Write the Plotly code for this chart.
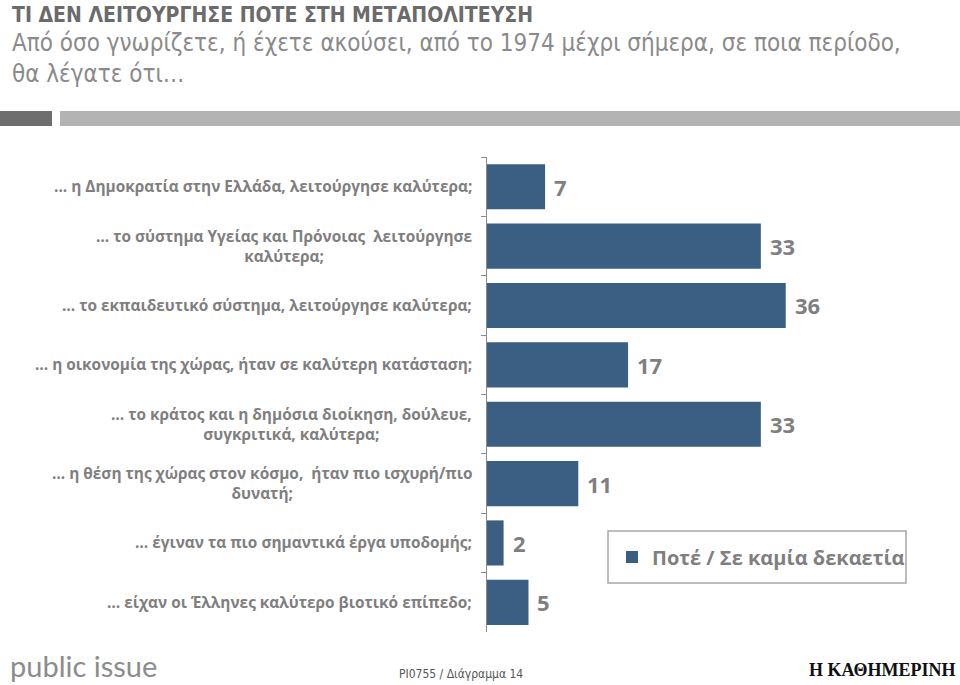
import plotly.graph_objects as go

categories = [
    "... η Δημοκρατία στην Ελλάδα, λειτούργησε καλύτερα;",
    "… το σύστημα Υγείας και Πρόνοιας  λειτούργησε<br>καλύτερα;",
    "… το εκπαιδευτικό σύστημα, λειτούργησε καλύτερα;",
    "… η οικονομία της χώρας, ήταν σε καλύτερη κατάσταση;",
    "… το κράτος και η δημόσια διοίκηση, δούλευε,<br>συγκριτικά, καλύτερα;",
    "… η θέση της χώρας στον κόσμο,  ήταν πιο ισχυρή/πιο<br>δυνατή;",
    "… έγιναν τα πιο σημαντικά έργα υποδομής;",
    "… είχαν οι Έλληνες καλύτερο βιοτικό επίπεδο;",
]
values = [7, 33, 36, 17, 33, 11, 2, 5]
series_name = "Ποτέ / Σε καμία δεκαετία"

title = "ΤΙ ΔΕΝ ΛΕΙΤΟΥΡΓΗΣΕ ΠΟΤΕ ΣΤΗ ΜΕΤΑΠΟΛΙΤΕΥΣΗ"
subtitle = "Από όσο γνωρίζετε, ή έχετε ακούσει, από το 1974 μέχρι σήμερα, σε ποια περίοδο,<br>θα λέγατε ότι…"

BAR = "#3a5f83"
GRAY = "#7f7f7f"
COND = "Noto Sans Condensed, DejaVu Sans Condensed, Liberation Sans Narrow, Liberation Sans"

W, H = 960, 685
L, R, T, B = 487, 0, 157, 53
pw, ph = W - L - R, H - T - B

def px(xp):
    return (xp - L) / pw

def py(yp):
    return (H - B - yp) / ph

fig = go.Figure()
fig.add_trace(go.Bar(
    x=values, y=categories, orientation="h",
    marker=dict(color=BAR, line=dict(width=0)),
    name=series_name, showlegend=True, width=0.76,
))

for c, v in zip(categories, values):
    fig.add_annotation(x=v, y=c, xref="x", yref="y", text=str(v),
                       showarrow=False, xanchor="left", yanchor="middle", xshift=7,
                       font=dict(family="Open Sans", size=22, color=GRAY, weight="bold"))
    fig.add_annotation(x=0, y=c, xref="paper", yref="y", text=c,
                       showarrow=False, xanchor="right", yanchor="middle", xshift=-13,
                       align="center",
                       font=dict(family="Open Sans", size=15.4, color=GRAY, weight="bold"))

fig.add_annotation(x=px(10), y=py(15), xref="paper", yref="paper", text=title,
                   showarrow=False, xanchor="left", yanchor="middle",
                   font=dict(family=COND, size=21, color="#6b6b6b", weight="bold"))
fig.add_annotation(x=px(10), y=py(59), xref="paper", yref="paper", text=subtitle,
                   showarrow=False, xanchor="left", yanchor="middle", align="left",
                   font=dict(family=COND, size=24, color="#8a8a8a"))

fig.add_shape(type="rect", xref="paper", yref="paper", x0=px(0), x1=px(52), y0=py(111), y1=py(126),
              fillcolor="#6e6e6e", line=dict(width=0))
fig.add_shape(type="rect", xref="paper", yref="paper", x0=px(60), x1=px(960), y0=py(111), y1=py(126),
              fillcolor="#b3b3b3", line=dict(width=0))

# legend frame
fig.add_shape(type="rect", xref="paper", yref="paper", x0=px(608), x1=px(906), y0=py(531), y1=py(583),
              fillcolor="white", line=dict(color="#a6a6a6", width=1.5), layer="below")

# footer
fig.add_annotation(x=px(8), y=py(665), xref="paper", yref="paper", text="public issue",
                   showarrow=False, xanchor="left", yanchor="middle",
                   font=dict(family="Lato", size=29, color="#8c8c8c"))
fig.add_annotation(x=px(461), y=py(674), xref="paper", yref="paper", text="PI0755 / Διάγραμμα 14",
                   showarrow=False, xanchor="center", yanchor="middle",
                   font=dict(family=COND, size=12, color="#555555"))
fig.add_annotation(x=px(957), y=py(670), xref="paper", yref="paper", text="<b>Η ΚΑΘΗΜΕΡΙΝΗ</b>",
                   showarrow=False, xanchor="right", yanchor="middle",
                   font=dict(family="Liberation Serif", size=18, color="#111111"))

fig.update_layout(
    width=W, height=H,
    margin=dict(l=L, r=R, t=T, b=B, pad=0),
    plot_bgcolor="white", paper_bgcolor="white",
    bargap=0.24,
    xaxis=dict(range=[0, 57], visible=False, fixedrange=True),
    yaxis=dict(categoryorder="array", categoryarray=categories, autorange="reversed",
               showticklabels=False, showgrid=False, zeroline=False,
               showline=True, linecolor="#8c8c8c", linewidth=1,
               ticks="outside", tickson="boundaries", ticklen=5, tickcolor="#8c8c8c"),
    legend=dict(x=px(612), y=py(557), xanchor="left", yanchor="middle",
                borderwidth=0, bgcolor="rgba(0,0,0,0)",
                font=dict(family="Open Sans", size=20, color=GRAY, weight="bold"),
                itemwidth=30),
    showlegend=True,
)

fig.write_html("out.html")
